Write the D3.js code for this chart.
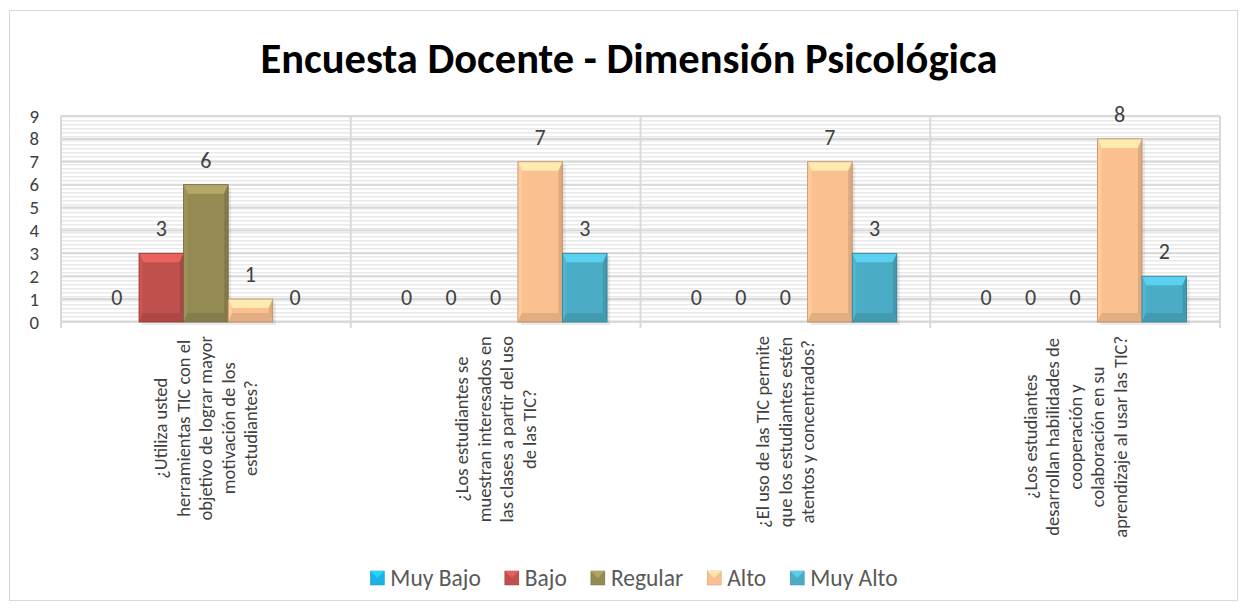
<!DOCTYPE html>
<html lang="es">
<head>
<meta charset="UTF-8">
<title>Encuesta Docente - Dimensión Psicológica</title>
<script src="https://d3js.org/d3.v7.min.js"></script>
<style>
    body { margin: 0; background: #fff; }
    svg { font-family: Calibri, Carlito, "Open Sans", sans-serif; }
    .tick-label { font-size: 18.8px; fill: #404040; }
    .value-label { font-size: 22px; fill: #404040; text-anchor: middle; }
    .cat-label { font-size: 18.5px; fill: #404040; text-anchor: middle; }
    .legend-text { font-size: 23.5px; fill: #595959; }
</style>
</head>
<body>
<svg width="1249" height="611"></svg>
<script>
const categories = [
    ["¿Utiliza usted", "herramientas TIC con el", "objetivo de lograr mayor", "motivación de los", "estudiantes?"],
    ["¿Los estudiantes se", "muestran interesados en", "las clases a partir del uso", "de las TIC?"],
    ["¿El uso de las TIC permite", "que los estudiantes estén", "atentos y concentrados?"],
    ["¿Los estudiantes", "desarrollan habilidades de", "cooperación y", "colaboración en su", "aprendizaje al usar las TIC?"]
];
const seriesNames = ["Muy Bajo", "Bajo", "Regular", "Alto", "Muy Alto"];
const seriesColors = ["#1BB3E6", "#C0504D", "#948A54", "#FAC090", "#4BACC6"];
const muyBajo = [0, 0, 0, 0];
const bajo = [3, 0, 0, 0];
const regular = [6, 0, 0, 0];
const alto = [1, 7, 7, 8];
const muyAlto = [0, 3, 3, 2];
const yTicks = [0, 1, 2, 3, 4, 5, 6, 7, 8, 9];

const values = [muyBajo, bajo, regular, alto, muyAlto];
const svg = d3.select("svg");

const plot = { left: 61, right: 1220, top: 116, bottom: 322 };

// chart border
svg.append("rect")
    .attr("x", 9.5).attr("y", 10.5)
    .attr("width", 1228).attr("height", 590)
    .attr("fill", "#fff").attr("stroke", "#d9d9d9");

// title
svg.append("text")
    .attr("x", 629).attr("y", 73)
    .attr("text-anchor", "middle")
    .attr("font-size", 42.5).attr("font-weight", "bold").attr("fill", "#000")
    .text("Encuesta Docente - Dimensión Psicológica");

// pattern fill for plot area
const defs = svg.append("defs");
const pat = defs.append("pattern")
    .attr("id", "hatch").attr("patternUnits", "userSpaceOnUse")
    .attr("width", 8).attr("height", 4);
pat.append("rect").attr("width", 8).attr("height", 4).attr("fill", "#fff");
pat.append("rect").attr("y", 0).attr("width", 8).attr("height", 1.5).attr("fill", "#e9e9e9");

const catIdx = categories.map((d, i) => i);
const x0 = d3.scaleBand().domain(catIdx).range([plot.left, plot.right]).padding(0);
const barW = x0.bandwidth() / 6.5;
const x1 = d3.scaleBand().domain(d3.range(seriesNames.length))
    .range([barW * 0.75, x0.bandwidth() - barW * 0.75]).padding(0);
const y = d3.scaleLinear().domain([0, 9]).range([plot.bottom, plot.top]);

svg.append("rect")
    .attr("x", plot.left).attr("y", plot.top)
    .attr("width", plot.right - plot.left).attr("height", plot.bottom - plot.top)
    .attr("fill", "url(#hatch)");

// gridlines
svg.append("g").selectAll("line")
    .data(yTicks).enter().append("line")
    .attr("x1", plot.left).attr("x2", plot.right)
    .attr("y1", d => y(d)).attr("y2", d => y(d))
    .attr("stroke", "#d9d9d9").attr("stroke-width", 2);

// vertical category separators
svg.append("g").selectAll("line")
    .data(d3.range(categories.length + 1)).enter().append("line")
    .attr("x1", d => plot.left + d * x0.step()).attr("x2", d => plot.left + d * x0.step())
    .attr("y1", plot.top).attr("y2", plot.bottom + 6)
    .attr("stroke", "#d9d9d9").attr("stroke-width", 2);

// y tick labels
svg.append("g").selectAll("text")
    .data(yTicks).enter().append("text")
    .attr("class", "tick-label")
    .attr("x", 39).attr("y", d => y(d))
    .attr("dy", "0.35em")
    .attr("text-anchor", "end")
    .text(d => d);

// bars with bevel
const bars = [];
values.forEach((arr, s) => arr.forEach((v, c) => bars.push({ s, c, v })));

const barG = svg.append("g");
bars.filter(d => d.v > 0).forEach(d => {
    const x = x0(d.c) + x1(d.s), w = x1.bandwidth();
    const top = y(d.v), h = y(0) - top;
    const col = d3.color(seriesColors[d.s]);
    const b = Math.min(9, h / 2), s = 4;
    const g = barG.append("g");
    g.append("rect").attr("x", x + 3).attr("y", top + 3).attr("width", w).attr("height", h)
        .attr("fill", "#000").attr("opacity", 0.08);
    g.append("rect").attr("x", x).attr("y", top).attr("width", w).attr("height", h)
        .attr("fill", col);
    const poly = (pts, fill) => g.append("polygon")
        .attr("points", pts.map(p => p.join(",")).join(" ")).attr("fill", fill);
    poly([[x, top], [x + w, top], [x + w - s, top + b], [x + s, top + b]], col.brighter(0.55));
    poly([[x, top], [x + s, top + b], [x + s, top + h - b], [x, top + h]], col.brighter(0.15));
    poly([[x + w, top], [x + w - s, top + b], [x + w - s, top + h - b], [x + w, top + h]], col.darker(0.35));
    poly([[x, top + h], [x + s, top + h - b], [x + w - s, top + h - b], [x + w, top + h]], col.darker(0.3));
    g.append("rect").attr("x", x).attr("y", top).attr("width", w).attr("height", h)
        .attr("fill", "none").attr("stroke", col.darker(0.8)).attr("stroke-width", 0.8);
});

// value labels
svg.append("g").selectAll("text")
    .data(bars).enter().append("text")
    .attr("class", "value-label")
    .attr("x", d => x0(d.c) + x1(d.s) + x1.bandwidth() / 2)
    .attr("y", d => y(d.v) - 17)
    .text(d => d.v);

// category labels (rotated, multi-line)
const lineH = 22.5;
const catG = svg.append("g");
categories.forEach((lines, c) => {
    const cx = x0(c) + x0.bandwidth() / 2;
    const texts = lines.map((t, i) => catG.append("text")
        .attr("class", "cat-label")
        .attr("dy", "0.35em")
        .text(t));
    const maxW = d3.max(texts, t => t.node().getComputedTextLength());
    const cy = plot.bottom + 14 + maxW / 2;
    texts.forEach((t, i) => {
        const lx = cx + (i - (lines.length - 1) / 2) * lineH;
        t.attr("transform", `translate(${lx},${cy}) rotate(-90)`);
    });
});

// legend, centred as a group
const legG = svg.append("g");
const ly = 578, mk = 14, mkGap = 6, itemGap = 24;
let lx = 0;
seriesNames.forEach((name, i) => {
    const col = d3.color(seriesColors[i]);
    legG.append("rect").attr("x", lx).attr("y", ly - mk / 2).attr("width", mk).attr("height", mk)
        .attr("fill", col).attr("stroke", col.darker(0.6)).attr("stroke-width", 0.5);
    legG.append("polygon")
        .attr("points", `${lx},${ly - mk / 2} ${lx + mk},${ly - mk / 2} ${lx + mk / 2},${ly}`)
        .attr("fill", col.brighter(0.5));
    const t = legG.append("text").attr("class", "legend-text")
        .attr("x", lx + mk + mkGap).attr("y", ly).attr("dy", "0.35em").text(name);
    lx += mk + mkGap + t.node().getComputedTextLength() + itemGap;
});
const legW = lx - itemGap;
legG.attr("transform", `translate(${634 - legW / 2},0)`);
</script>
</body>
</html>
